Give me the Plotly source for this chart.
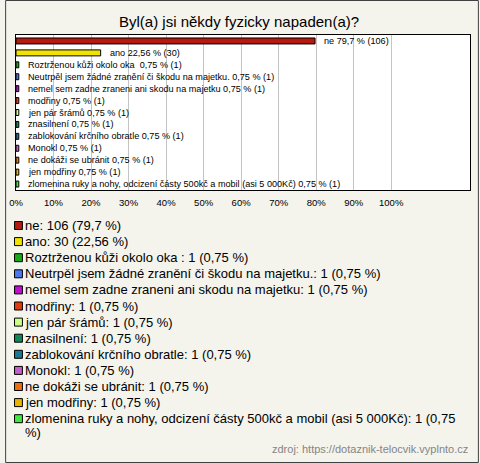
import textwrap
import plotly.graph_objects as go

title = "Byl(a) jsi někdy fyzicky napaden(a)?"
categories = [
    "ne",
    "ano",
    "Roztrženou kůži okolo oka ",
    "Neutrpěl jsem žádné zranění či škodu na majetku.",
    "nemel sem zadne zraneni ani skodu na majetku",
    "modřiny",
    "jen pár šrámů",
    "znasilnení",
    "zablokování krčního obratle",
    "Monokl",
    "ne dokáži se ubránit",
    "jen modřiny",
    "zlomenina ruky a nohy, odcizení částy 500kč a mobil (asi 5 000Kč)",
]
counts = [106, 30, 1, 1, 1, 1, 1, 1, 1, 1, 1, 1, 1]
percents = [79.7, 22.56, 0.75, 0.75, 0.75, 0.75, 0.75, 0.75, 0.75, 0.75, 0.75, 0.75, 0.75]
pct_labels = ["79,7", "22,56", "0,75", "0,75", "0,75", "0,75", "0,75", "0,75", "0,75", "0,75", "0,75", "0,75", "0,75"]
colors = ["#b5190f", "#f2e200", "#17a917", "#4a78f0", "#c010d0", "#e03c10", "#ccff88",
          "#10885a", "#1a7890", "#c060c8", "#e87010", "#e8b400", "#40e840"]
tick_vals = [0, 10, 20, 30, 40, 50, 60, 70, 80, 90, 100]
tick_text = [f"{v}%" for v in tick_vals]
source = "zdroj: https://dotaznik-telocvik.vyplnto.cz"

FONT = "Liberation Sans, Arial, sans-serif"
W, H = 480, 463
ML, MR, MT, MB = 11, 9, 35, 273
PW, PH = W - ML - MR, H - MT - MB


def px2x(px):
    return (px - ML) / PW


def px2y(py):
    return (H - MB - py) / PH


fig = go.Figure()
fig.add_trace(go.Bar(
    x=percents, y=list(range(len(categories))), orientation="h",
    marker=dict(color=colors, line=dict(color="black", width=1)),
    width=0.5, showlegend=False, hoverinfo="skip",
))

annotations = []
for i, (c, p, pl, n) in enumerate(zip(categories, percents, pct_labels, counts)):
    annotations.append(dict(
        x=p, y=i, xref="x", yref="y", text=f"{c} {pl} % ({n})",
        xanchor="left", yanchor="middle", xshift=7, showarrow=False,
        font=dict(family=FONT, size=9.1, color="black"),
    ))

shapes = []
leg_y0, leg_step, line_step = 225.5, 16.1, 14
for i, (c, pl, n, col) in enumerate(zip(categories, pct_labels, counts, colors)):
    cy = leg_y0 + i * leg_step
    shapes.append(dict(
        type="rect", xref="paper", yref="paper",
        x0=px2x(9.5), x1=px2x(17.5), y0=px2y(cy - 4), y1=px2y(cy + 4),
        fillcolor=col, line=dict(color="black", width=1),
    ))
    label = f"{c}: {n} ({pl} %)"
    for j, line in enumerate(textwrap.wrap(label, width=75)):
        annotations.append(dict(
            x=px2x(18), y=px2y(cy + j * line_step), xref="paper", yref="paper",
            text=line, xanchor="left", yanchor="middle", showarrow=False,
            font=dict(family=FONT, size=13, color="black"),
        ))

annotations.append(dict(
    x=px2x(471), y=px2y(449), xref="paper", yref="paper", text=source,
    xanchor="right", yanchor="middle", showarrow=False,
    font=dict(family=FONT, size=11, color="#858585"),
))
annotations.append(dict(
    x=px2x(237), y=px2y(22), xref="paper", yref="paper", text=title,
    xanchor="center", yanchor="middle", showarrow=False,
    font=dict(family=FONT, size=15, color="black"),
))

shapes.append(dict(
    type="rect", xref="paper", yref="paper",
    x0=px2x(0.5), x1=px2x(W - 0.5), y0=px2y(0.5), y1=px2y(H - 0.5),
    line=dict(color="#404040", width=1), fillcolor="rgba(0,0,0,0)", layer="below",
))

fig.update_layout(
    width=W, height=H,
    margin=dict(l=ML, r=MR, t=MT, b=MB, pad=0),
    paper_bgcolor="#f4f3ec", plot_bgcolor="white",
    annotations=annotations, shapes=shapes,
    xaxis=dict(range=[0, 121], tickvals=tick_vals, ticktext=tick_text,
               showgrid=True, gridcolor="#c4c4c4", gridwidth=1, zeroline=False,
               showline=True, mirror=True, linecolor="black", linewidth=1,
               ticks="", ticklabelstandoff=4,
               tickfont=dict(family=FONT, size=9.5, color="black"), fixedrange=True),
    yaxis=dict(range=[len(categories) - 0.5, -0.5], showticklabels=False, showgrid=False,
               zeroline=False, showline=True, mirror=True, linecolor="black", linewidth=1,
               ticks="", fixedrange=True),
    font=dict(family=FONT),
)

fig.write_html(
    "out.html",
    config={"displayModeBar": False},
    post_script="document.body.style.margin='0';document.body.style.overflow='hidden';",
)
